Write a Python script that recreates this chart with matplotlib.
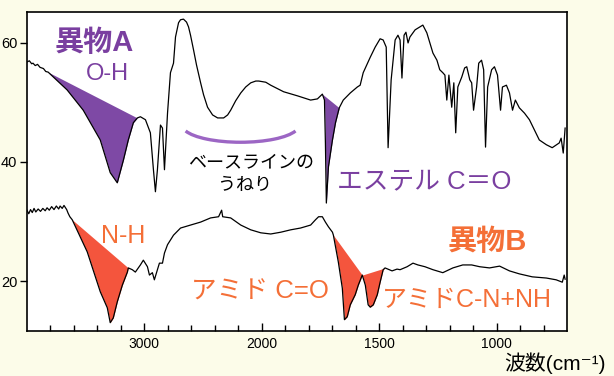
import numpy as np
import matplotlib.pyplot as plt
from matplotlib.patches import Arc

# 異物A (upper spectrum): wavenumber [cm-1] and transmittance [%]
wn_a = [4000, 3980, 3960, 3949, 3930, 3910, 3889, 3860, 3840, 3820, 3658, 3521, 3376, 3291,
        3231, 3179, 3137, 3094, 3060, 3034, 2991, 2949, 2923, 2906, 2889, 2863, 2846, 2829,
        2803, 2778, 2752, 2735, 2709, 2692, 2667, 2641, 2624, 2607, 2581, 2556, 2521, 2496,
        2462, 2419, 2376, 2325, 2291, 2265, 2222, 2179, 2137, 2094, 2051, 2026, 1983, 1962,
        1907, 1847, 1792, 1763, 1742, 1733, 1729, 1725, 1716, 1699, 1686,
        1670, 1653, 1623, 1593, 1581, 1568, 1538, 1517, 1496, 1483, 1470, 1462, 1449, 1432,
        1420, 1411, 1403, 1394, 1386, 1377, 1369, 1347, 1326, 1314, 1297, 1284, 1271, 1254,
        1242, 1229, 1220, 1212, 1203, 1191, 1182, 1174, 1165, 1148, 1136, 1127, 1114, 1106,
        1098, 1085, 1076, 1064, 1055, 1047, 1038, 1021, 1009, 996, 983, 975, 958, 945, 932,
        920, 903, 881, 860, 839, 818, 788, 763, 733, 725, 716, 708]
t_a = [56.8, 57.0, 56.5, 56.6, 56.2, 56.4, 55.9, 55.7, 55.2, 55.1, 52.1, 48.7, 43.7, 38.2,
       36.5, 40.3, 43.7, 46.6, 47.4, 47.6, 47.1, 44.9, 38.7, 35.0, 38.7, 46.2, 45.7, 38.7,
       48.2, 55.0, 56.6, 61.0, 63.4, 63.9, 64.0, 63.5, 62.7, 61.3, 58.8, 56.3, 53.3, 51.3,
       49.2, 47.9, 47.4, 47.4, 47.9, 48.7, 50.3, 51.6, 52.6, 53.3, 53.6, 53.6, 53.4, 52.9,
       51.8, 51.1, 50.4, 50.6, 51.4, 50.4, 43.2, 33.1, 39.2, 43.7, 46.6,
       49.1, 50.4, 51.6, 52.6, 52.9, 55.0, 57.6, 59.3, 60.7, 60.5, 59.3, 42.4, 53.8, 60.5,
       61.3, 60.5, 54.1, 61.3, 61.8, 60.0, 61.0, 62.2, 62.7, 63.0, 61.7, 60.0, 58.3, 57.1,
       55.5, 55.0, 54.6, 50.4, 54.6, 49.2, 53.3, 44.9, 52.6, 54.3, 55.8, 56.0, 53.8, 53.3,
       48.7, 52.6, 56.6, 57.1, 55.5, 42.5, 52.6, 55.5, 56.0, 54.6, 48.7, 52.6, 52.9, 51.6, 48.7,
       50.4, 49.1, 48.2, 47.1, 45.4, 43.7, 42.9, 42.4, 43.2, 44.0, 41.5, 45.7]

# 異物B (lower spectrum)
wn_b = [4000, 3985, 3970, 3955, 3940, 3925, 3905, 3885, 3865, 3845, 3829, 3810, 3790, 3770,
        3750, 3730, 3718, 3700, 3685, 3675, 3662, 3650, 3635, 3615, 3487, 3376, 3316, 3291,
        3265, 3231, 3188, 3145, 3137, 3103, 3077, 3034, 3009, 2974, 2957, 2932, 2915, 2889,
        2872, 2846, 2829, 2803, 2752, 2692, 2607, 2521, 2436, 2368, 2342, 2333, 2265, 2179,
        2094, 2009, 1962, 1919, 1877, 1835, 1792, 1771, 1758, 1742, 1729, 1716, 1699, 1695,
        1674, 1657, 1648, 1636, 1623, 1602, 1589, 1572, 1559, 1547, 1538, 1525, 1508, 1496,
        1483, 1475, 1445, 1424, 1411, 1381, 1356, 1335, 1305, 1271, 1229, 1186, 1144, 1106,
        1072, 1030, 987, 945, 903, 848, 788, 746, 720, 712, 708]
t_b = [31.9, 31.3, 32.0, 31.5, 32.2, 31.6, 32.1, 31.7, 32.2, 31.8, 32.3, 31.9, 32.5, 32.0,
       32.6, 32.1, 32.6, 32.2, 32.7, 32.4, 32.0, 31.4, 30.8, 30.3, 24.9, 18.2, 15.5, 13.0,
       13.8, 16.5, 19.3, 21.5, 22.2, 21.9, 21.5, 22.7, 23.5, 22.4, 21.0, 21.4, 20.2, 21.9,
       23.0, 23.0, 24.7, 26.1, 27.7, 28.9, 29.4, 29.9, 30.6, 30.8, 31.9, 30.8, 30.6, 29.4,
       28.6, 28.1, 27.9, 28.2, 28.6, 28.9, 29.4, 30.3, 30.8, 30.8, 29.9, 29.1, 28.2, 27.7,
       23.2, 18.8, 13.5, 14.0, 16.0, 17.7, 19.3, 21.0, 19.3, 16.0, 15.6, 16.0, 17.7, 19.8,
       21.9, 22.2, 21.7, 22.0, 21.9, 22.4, 23.0, 22.7, 22.4, 21.9, 21.4, 22.2, 22.7, 22.7,
       22.4, 22.2, 22.5, 21.7, 21.2, 20.7, 20.5, 20.2, 19.8, 21.0, 20.3]

# shaded absorption bands (start, end) in cm-1
bands_a = [(3820, 3060), (1742, 1670)]
bands_b = [(3615, 3137), (1695, 1572), (1572, 1475)]

major_ticks = [3000, 2000, 1500, 1000]
minor_ticks = [3800, 3600, 3400, 3200, 2800, 2600, 2400, 2200,
               1900, 1800, 1700, 1600, 1400, 1300, 1200, 1100, 900, 800]
y_ticks = [20, 40, 60]

PURPLE = '#7e49a5'
PURPLE_TXT = '#7a3fa0'
ORANGE = '#f4553d'
ORANGE_TXT = '#f46f37'
JP = ['Liberation Sans', 'Noto Sans CJK JP', 'DejaVu Sans']

plt.rcParams['font.family'] = JP


def fwd(x):
    # IR convention: scale doubles below 2000 cm-1
    x = np.asarray(x, dtype=float)
    return np.where(x > 2000, 2000 + (x - 2000) / 2, x)


def inv(u):
    u = np.asarray(u, dtype=float)
    return np.where(u > 2000, 2000 + (u - 2000) * 2, u)


def shade(ax, wn, t, band, color):
    wn = np.asarray(wn)
    t = np.asarray(t)
    start, end = band
    m = (wn <= start) & (wn >= end)
    x, y = wn[m], t[m]
    y0 = np.interp(start, wn[::-1], t[::-1])
    y1 = np.interp(end, wn[::-1], t[::-1])
    base = y0 + (y1 - y0) * (x - start) / (end - start)
    ax.fill_between(x, y, base, color=color, lw=0, zorder=1)


fig = plt.figure(figsize=(6.14, 3.76), dpi=100, facecolor='#fcfce9')
ax = fig.add_axes([27 / 614, 45 / 376, 540 / 614, 319 / 376])
ax.set_xscale('function', functions=(fwd, inv))
ax.set_xlim(4000, 700)
ax.set_ylim(11.6, 65.2)

for b in bands_a:
    shade(ax, wn_a, t_a, b, PURPLE)
for b in bands_b:
    shade(ax, wn_b, t_b, b, ORANGE)
ax.plot(wn_a, t_a, color='black', lw=0.9, zorder=2)
ax.plot(wn_b, t_b, color='black', lw=0.9, zorder=2)

ax.set_xticks(major_ticks)
ax.set_xticklabels([str(v) for v in major_ticks])
ax.set_xticks(minor_ticks, minor=True)
ax.tick_params(axis='x', which='major', direction='in', length=6, width=1, labelsize=10, pad=4)
ax.tick_params(axis='x', which='minor', direction='in', length=4, width=1)
ax.set_yticks(y_ticks)
ax.tick_params(axis='y', direction='out', length=5, width=1, labelsize=10.5, pad=2)
for s in ax.spines.values():
    s.set_linewidth(1.2)

# labels
ax.text(3427, 60, '異物A', color=PURPLE_TXT, fontsize=21, fontweight='bold', ha='center', va='center')
ax.text(3316, 54.8, 'O-H', color=PURPLE_TXT, fontsize=17, ha='center', va='center')
ax.text(2094, 39.8, 'ベースラインの', color='black', fontsize=13, ha='center', va='center')
ax.text(2140, 36.1, 'うねり', color='black', fontsize=13, ha='center', va='center')
ax.text(1678, 36.8, 'エステル C＝O', color=PURPLE_TXT, fontsize=18.5, ha='left', va='center')
ax.text(3179, 27.6, 'N-H', color=ORANGE_TXT, fontsize=18, ha='center', va='center')
ax.text(2607, 18.2, 'アミド C=O', color=ORANGE_TXT, fontsize=18.5, ha='left', va='center')
ax.text(1038, 26.6, '異物B', color=ORANGE_TXT, fontsize=21, fontweight='bold', ha='center', va='center')
ax.text(1487, 16.8, 'アミドC-N+NH', color=ORANGE_TXT, fontsize=18, ha='left', va='center')
fig.text(555 / 614, 1 - 363 / 376, '波数(cm⁻¹)', fontsize=15, ha='center', va='center')

ax.add_patch(Arc((0.3955, 0.645), 0.216, 0.1066, theta1=190, theta2=350,
                 transform=ax.transAxes, color='#9c66c4', lw=2.4))

fig.savefig('out.png', dpi=100, facecolor=fig.get_facecolor())
